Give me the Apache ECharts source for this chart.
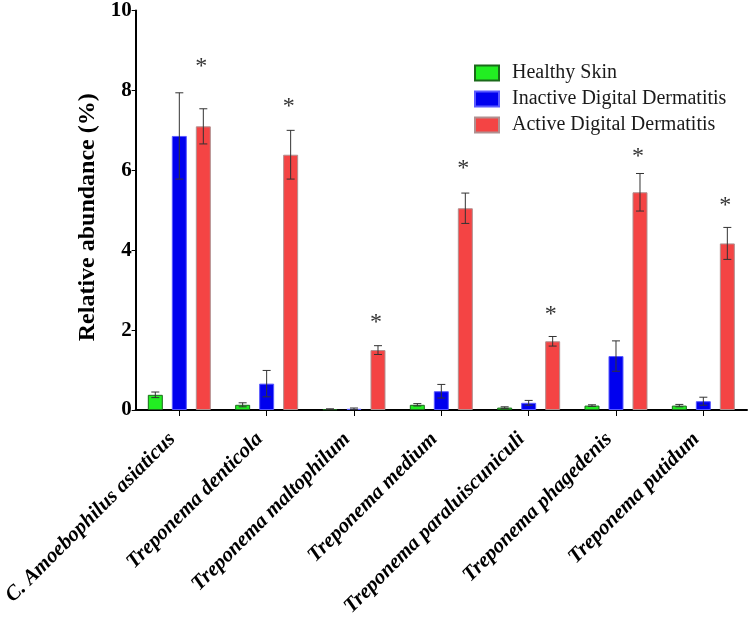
<!DOCTYPE html>
<html>
<head>
<meta charset="utf-8">
<script src="https://cdn.jsdelivr.net/npm/echarts@6/dist/echarts.min.js"></script>
<style>html,body{margin:0;padding:0;background:#fff;}#c{width:750px;height:621px;}</style>
</head>
<body>
<div id="c"></div>
<script>
var categories = ['C. Amoebophilus asiaticus','Treponema denticola','Treponema maltophilum','Treponema medium','Treponema paraluiscuniculi','Treponema phagedenis','Treponema putidum'];
var seriesNames = ['Healthy Skin','Inactive Digital Dermatitis','Active Digital Dermatitis'];
var healthy = [0.38, 0.13, 0.02, 0.13, 0.06, 0.11, 0.11];
var healthyErr = [0.07, 0.05, 0.01, 0.03, 0.02, 0.02, 0.03];
var inactive = [6.86, 0.66, 0.03, 0.47, 0.18, 1.35, 0.22];
var inactiveErr = [1.08, 0.33, 0.02, 0.17, 0.06, 0.38, 0.10];
var active = [7.10, 6.39, 1.50, 5.05, 1.72, 5.45, 4.17];
var activeErr = [0.44, 0.61, 0.11, 0.38, 0.12, 0.47, 0.40];
var sigY = [8.66, 7.66, 2.26, 6.11, 2.46, 6.41, 5.19];
var yTicks = [0, 2, 4, 6, 8, 10];

var SERIF = '"Liberation Serif","Times New Roman",serif';
var colors = ['#22ee22', '#0000ee', '#f44444'];
var borders = ['#1a6a1a', '#5a5aff', '#b09090'];
var BAR_W = 15, BAR_STEP = 24;

function errSeries(vals, errs, k) {
  var data = vals.map(function (v, i) { return [i, v, errs[i]]; });
  return {
    type: 'custom', silent: true, z: 5,
    renderItem: function (params, api) {
      var i = api.value(0), v = api.value(1), e = api.value(2);
      var dx = (k - 1) * BAR_STEP;
      var top = api.coord([i, v + e]);
      var bot = api.coord([i, Math.max(0, v - e)]);
      var x = top[0] + dx, hw = 4;
      var st = { stroke: '#333', lineWidth: 1 };
      return { type: 'group', children: [
        { type: 'line', shape: { x1: x, y1: top[1], x2: x, y2: bot[1] }, style: st },
        { type: 'line', shape: { x1: x - hw, y1: top[1], x2: x + hw, y2: top[1] }, style: st },
        { type: 'line', shape: { x1: x - hw, y1: bot[1], x2: x + hw, y2: bot[1] }, style: st }
      ]};
    },
    data: data
  };
}

var chart = echarts.init(document.getElementById('c'), null, { renderer: 'canvas' });
var barData = [healthy, inactive, active];
var series = [];
barData.forEach(function (arr, k) {
  series.push({
    name: seriesNames[k], type: 'bar', data: arr, barWidth: BAR_W, barGap: '60%',
    itemStyle: { color: colors[k], borderColor: borders[k], borderWidth: 1 }
  });
});
series.push(errSeries(healthy, healthyErr, 0));
series.push(errSeries(inactive, inactiveErr, 1));
series.push(errSeries(active, activeErr, 2));
series.push({
  type: 'custom', silent: true, z: 6,
  renderItem: function (params, api) {
    var p = api.coord([api.value(0), api.value(1)]);
    return { type: 'text', x: p[0] + BAR_STEP - 2, y: p[1] + 3,
      style: { text: '*', fill: '#333', font: '24px ' + SERIF, align: 'center', verticalAlign: 'middle' } };
  },
  data: sigY.map(function (v, i) { return [i, v]; })
});

chart.setOption({
  animation: false,
  backgroundColor: '#fff',
  grid: { left: 132, top: 10, width: 615, height: 400, containLabel: false },
  legend: {
    orient: 'vertical', left: 474, top: 63, padding: 0, itemWidth: 24, itemHeight: 15, itemGap: 6,
    icon: 'rect', data: seriesNames,
    textStyle: { fontFamily: SERIF, fontSize: 20, color: '#1a1a1a', padding: [0, 0, 0, 8] }
  },
  xAxis: {
    type: 'category', data: categories,
    axisLine: { lineStyle: { color: '#000', width: 2 } },
    axisTick: { show: true, alignWithLabel: true, length: 6, lineStyle: { color: '#000', width: 1 } },
    axisLabel: { rotate: 45, margin: 19, interval: 0, fontFamily: SERIF, fontSize: 21,
      fontWeight: 'bold', fontStyle: 'italic', color: '#000', padding: [0, 10, 0, 0] }
  },
  yAxis: {
    type: 'value', min: 0, max: 10, interval: 2,
    name: 'Relative abundance (%)', nameLocation: 'middle', nameGap: 36,
    nameTextStyle: { fontFamily: SERIF, fontSize: 24, fontWeight: 'bold', color: '#000', padding: [0, 14, 0, 0] },
    axisLine: { show: true, lineStyle: { color: '#000', width: 2 } },
    axisTick: { show: true, length: 4, lineStyle: { color: '#000', width: 1 } },
    axisLabel: { margin: 4, fontFamily: SERIF, fontSize: 21, fontWeight: 'bold', color: '#000',
      formatter: function (v) { return yTicks.indexOf(v) >= 0 ? String(v) : ''; } },
    splitLine: { show: false }
  },
  series: series
});
</script>
</body>
</html>
